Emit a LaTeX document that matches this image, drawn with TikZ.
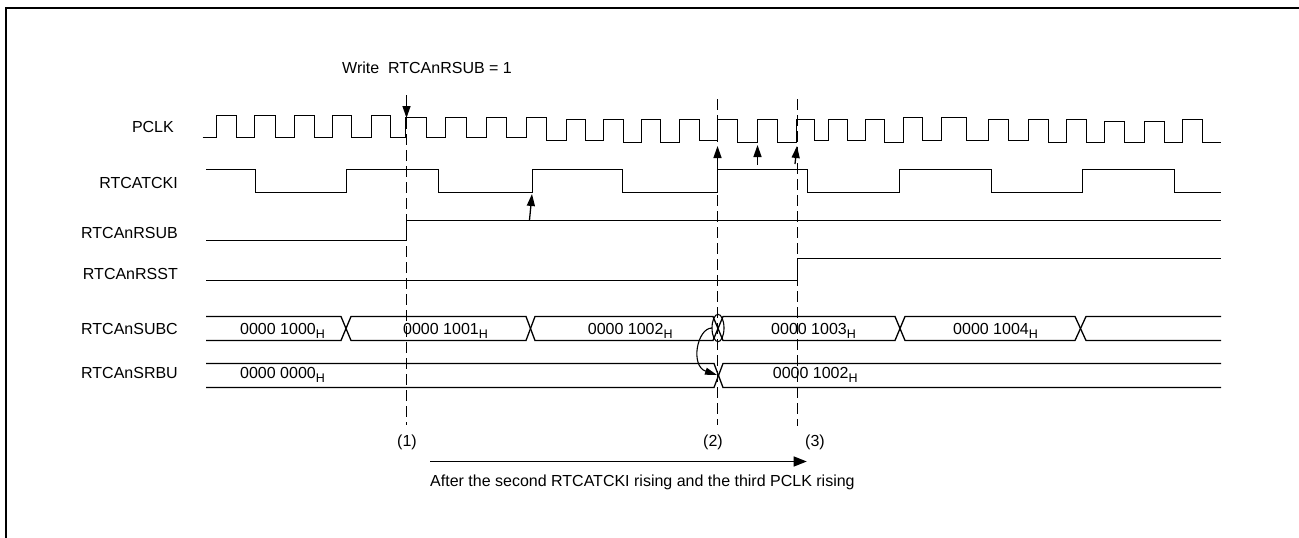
\documentclass[tikz,border=0pt]{standalone}
\usepackage{fontspec}
\setmainfont{Liberation Sans}
\usetikzlibrary{arrows.meta}
\newcommand{\subH}{\raisebox{-4pt}{\fontsize{12.5}{14}\selectfont H}}
\begin{document}
\begin{tikzpicture}[x=1pt,y=-1pt,font=\fontsize{16}{18}\selectfont,
  sig/.style={line width=1.3pt,line join=miter,black},
  guide/.style={line width=1.3pt,dash pattern=on 11pt off 5pt,black},
  tip/.style={line width=1.3pt,-{Triangle[length=12pt,width=8pt]},black},
  signame/.style={anchor=base east,inner sep=0pt},
  val/.style={anchor=base west,inner sep=0pt}
]
  \useasboundingbox (0,0) rectangle (1299,538);
  % frame
  \draw[line width=2pt] (1299,8) -- (6,8) -- (6,538);
  % signal names
  \node[signame] (pclk)  at (174,132.3) {PCLK};
  \node[signame] (tcki)  at (178,188.3) {RTCATCKI};
  \node[signame] (rsub)  at (178,238.3) {RTCAnRSUB};
  \node[signame] (rsst)  at (178,279.3) {RTCAnRSST};
  \node[signame] (subc)  at (178,334.3) {RTCAnSUBC};
  \node[signame] (srbu)  at (178,378.3) {RTCAnSRBU};
  % PCLK
  \draw[sig] (202.5,137.5) -| (216.5,115.5) -| (236.5,137.5) -| (254.5,115.5) -| (275.5,137.5)
    -| (294.5,115.5) -| (314.5,137.5) -| (332.5,115.5) -| (351.5,137.5) -| (371.5,115.5) -| (390.5,137.5)
    -| (405.5,117.5) -| (426.5,137.5) -| (445.5,117.5) -| (466.5,137.5) -| (486.5,117.5) -| (506.5,137.5)
    -| (526.5,117.5) -| (546.5,140.5) -| (566.5,119.5) -| (585.5,140.5) -| (603.5,119.5) -| (623.5,142.5)
    -| (641.5,119.5) -| (660.5,142.5) -| (679.5,119.5) -| (699.5,140.5) -| (717.5,119.5) -| (737.5,142.5)
    -| (757.5,119.5) -| (777.5,142.5) -| (796.5,119.5) -| (814.5,140.5) -| (828.5,119.5) -| (847.5,140.5)
    -| (865.5,119.5) -| (884.5,142.5) -| (903.5,117.5) -| (922.5,140.5) -| (941.5,117.5) -| (966.5,140.5)
    -| (988.5,119.5) -| (1008.5,140.5) -| (1028.5,119.5) -| (1048.5,142.5) -| (1066.5,119.5)
    -| (1086.5,142.5) -| (1104.5,121.5) -| (1124.5,142.5) -| (1144.5,121.5) -| (1164.5,142.5)
    -| (1182.5,119.5) -| (1202.5,142.5) -- (1221,142.5);
  % RTCATCKI
  \draw[sig] (206,169.5) -| (255.5,192.5) -| (346.5,169.5) -| (438.5,192.5) -| (532.5,169.5) -| (622.5,192.5)
    -| (717.5,169.5) -| (807.5,192.5) -| (899.5,169.5) -| (991.5,192.5) -| (1082.5,169.5) -| (1174.5,192.5) -- (1221,192.5);
  % RTCAnRSUB, RTCAnRSST
  \draw[sig] (206,240.5) -| (406.5,220.5) -- (1221,220.5);
  \draw[sig] (206,280.5) -| (797.5,258.5) -- (1221,258.5);
  % RTCAnSUBC
  \draw[sig] (206,316.5) -- (341,316.5) -- (351,340.5) -- (526,340.5) -- (535,316.5)
    -- (713,316.5) -- (723,340.5) -- (895,340.5) -- (905,316.5) -- (1075,316.5) -- (1086,340.5) -- (1221,340.5);
  \draw[sig] (206,340.5) -- (341,340.5) -- (351,316.5) -- (526,316.5) -- (535,340.5)
    -- (713,340.5) -- (723,316.5) -- (895,316.5) -- (905,340.5) -- (1075,340.5) -- (1086,316.5) -- (1221,316.5);
  % RTCAnSRBU
  \draw[sig] (206,363.5) -- (714,363.5) -- (723,387.5) -- (1221,387.5);
  \draw[sig] (206,387.5) -- (714,387.5) -- (723,363.5) -- (1221,363.5);
  % values
  \node[val] (v1) at (240,334.3) {0000 1000\subH};
  \node[val] (v2) at (403,334.3) {0000 1001\subH};
  \node[val] (v3) at (587.7,334.3) {0000 1002\subH};
  \node[val] (v4) at (771,334.3) {0000 1003\subH};
  \node[val] (v5) at (953,334.3) {0000 1004\subH};
  \node[val] (v6) at (240,378.3) {0000 0000\subH};
  \node[val] (v7) at (772.7,378.3) {0000 1002\subH};
  % write marker and guides
  \node[inner sep=0pt,anchor=base west] (wr) at (342,73.3) {Write\ \ RTCAnRSUB = 1};
  \coordinate (wtop) at (406.5,95);
  \coordinate (wtip) at (406.5,118);
  \draw[tip] (wtop) -- (wtip);
  \draw[guide] (wtip) -- (406.5,425);
  \draw[guide] (717.5,99) -- (717.5,425);
  \draw[guide] (797.5,99) -- (797.5,426);
  \node[inner sep=0pt,anchor=base] (n1) at (407,446.7) {(1)};
  \node[inner sep=0pt,anchor=base] (n2) at (713,446.7) {(2)};
  \node[inner sep=0pt,anchor=base] (n3) at (815,446.7) {(3)};
  % rising edge arrows
  \draw[tip] (717.5,170) -- (717.5,146);
  \draw[tip] (757.5,165) -- (757.5,145);
  \draw[tip] (795,164) -- (797,146);
  \draw[tip] (529.5,220) -- (532,194);
  % capture from counter to buffer
  \draw[line width=1.1pt] (718,328) ellipse (6 and 13.7);
  \coordinate (cap) at (712,328);
  \coordinate (bufx) at (717,375);
  \draw[line width=1.1pt,-{Triangle[length=12pt,width=7pt]}] (cap) .. controls (697,328) and (690,366) .. (bufx);
  % bottom span
  \coordinate (spanl) at (430,461.5);
  \coordinate (spanr) at (806.7,461.5);
  \draw[line width=1.3pt,-{Triangle[length=13pt,width=10pt]}] (spanl) -- (spanr);
  \node[inner sep=0pt,anchor=base west] (span) at (430,486) {After the second RTCATCKI rising and the third PCLK rising};
\end{tikzpicture}
\end{document}
